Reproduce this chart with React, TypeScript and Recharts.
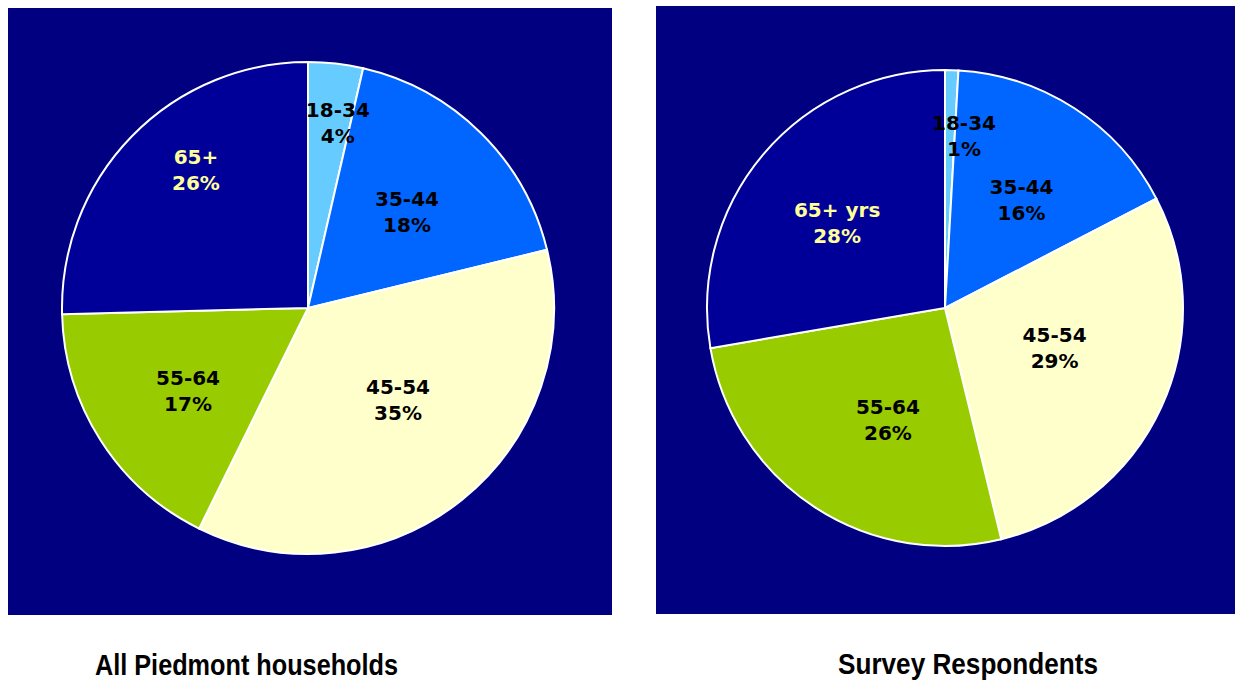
import React from "react";
import { PieChart, Pie, Cell } from "recharts";

// ---- data ----
const leftCategories = ["18-34", "35-44", "45-54", "55-64", "65+"];
const leftValues = [3.6, 17.6, 36.1, 17.3, 25.4];
const leftPercentLabels = ["4%", "18%", "35%", "17%", "26%"];

const rightCategories = ["18-34", "35-44", "45-54", "55-64", "65+ yrs"];
const rightValues = [0.9, 16.5, 28.8, 26.1, 27.7];
const rightPercentLabels = ["1%", "16%", "29%", "26%", "28%"];

const titles = ["All Piedmont households", "Survey Respondents"];

// ---- styles ----
const sliceColors = ["#66CCFF", "#0066FF", "#FFFFCC", "#99CC00", "#000099"];
const labelColors = ["#000000", "#000000", "#000000", "#000000", "#FFFF99"];
const panelBg = "#000080";

// label placement: angle offset (deg, clockwise) from slice middle, radius fraction
const leftPlacement = [
  { dA: 2.7, r: 0.76 },
  { dA: 1.3, r: 0.56 },
  { dA: -5.7, r: 0.523 },
  { dA: -2.1, r: 0.593 },
  { dA: 6.6, r: 0.722 },
];
const rightPlacement = [
  { dA: 4.7, r: 0.725 },
  { dA: 2.4, r: 0.556 },
  { dA: -4.5, r: 0.49 },
  { dA: -6.3, r: 0.528 },
  { dA: -1.9, r: 0.577 },
];

const RAD = Math.PI / 180;
const noMargin = { top: 0, right: 0, bottom: 0, left: 0 };

function makeLabel(
  placement: { dA: number; r: number }[],
  cats: string[],
  pcts: string[]
) {
  return (props: any) => {
    const { cx, cy, midAngle, outerRadius, index } = props;
    const p = placement[index];
    const a = (midAngle - p.dA) * RAD;
    const rr = outerRadius * p.r;
    const x = cx + rr * Math.cos(a);
    const y = cy - rr * Math.sin(a);
    const common = {
      textAnchor: "middle" as const,
      dominantBaseline: "central" as const,
      fill: labelColors[index],
      fontFamily: "'DejaVu Sans', Verdana, sans-serif",
      fontWeight: "bold" as const,
      fontSize: 20,
    };
    return (
      <g key={`lbl-${index}`}>
        <text x={x} y={y - 13} {...common}>
          {cats[index]}
        </text>
        <text x={x} y={y + 13} {...common}>
          {pcts[index]}
        </text>
      </g>
    );
  };
}

const leftData = leftCategories.map((c, i) => ({ name: c, value: leftValues[i] }));
const rightData = rightCategories.map((c, i) => ({ name: c, value: rightValues[i] }));

export default function App() {
  return (
    <div
      style={{
        position: "absolute",
        left: 0,
        top: 0,
        width: 1235,
        height: 680,
        background: "#ffffff",
        overflow: "hidden",
      }}
    >
      <div
        style={{
          position: "absolute",
          left: 8,
          top: 8,
          width: 604,
          height: 607,
          background: panelBg,
        }}
      >
        <PieChart width={604} height={607} margin={noMargin}>
          <Pie
            data={leftData}
            dataKey="value"
            nameKey="name"
            cx={300}
            cy={300}
            outerRadius={246}
            startAngle={90}
            endAngle={-270}
            stroke="#ffffff"
            strokeWidth={2}
            isAnimationActive={false}
            labelLine={false}
            label={makeLabel(leftPlacement, leftCategories, leftPercentLabels)}
          >
            {leftData.map((_, i) => (
              <Cell key={i} fill={sliceColors[i]} />
            ))}
          </Pie>
        </PieChart>
      </div>

      <div
        style={{
          position: "absolute",
          left: 656,
          top: 6,
          width: 579,
          height: 608,
          background: panelBg,
        }}
      >
        <PieChart width={579} height={608} margin={noMargin}>
          <Pie
            data={rightData}
            dataKey="value"
            nameKey="name"
            cx={289}
            cy={302}
            outerRadius={238}
            startAngle={90}
            endAngle={-270}
            stroke="#ffffff"
            strokeWidth={2}
            isAnimationActive={false}
            labelLine={false}
            label={makeLabel(rightPlacement, rightCategories, rightPercentLabels)}
          >
            {rightData.map((_, i) => (
              <Cell key={i} fill={sliceColors[i]} />
            ))}
          </Pie>
        </PieChart>
      </div>

      <svg
        width={1235}
        height={680}
        style={{ position: "absolute", left: 0, top: 0, pointerEvents: "none" }}
      >
        <text
          x={95}
          y={675}
          fontFamily="'Liberation Sans', Arial, sans-serif"
          fontWeight="bold"
          fontSize={30}
          fill="#000"
          textLength={303}
          lengthAdjust="spacingAndGlyphs"
        >
          {titles[0]}
        </text>
        <text
          x={838}
          y={674}
          fontFamily="'Liberation Sans', Arial, sans-serif"
          fontWeight="bold"
          fontSize={30}
          fill="#000"
          textLength={260}
          lengthAdjust="spacingAndGlyphs"
        >
          {titles[1]}
        </text>
      </svg>
    </div>
  );
}
